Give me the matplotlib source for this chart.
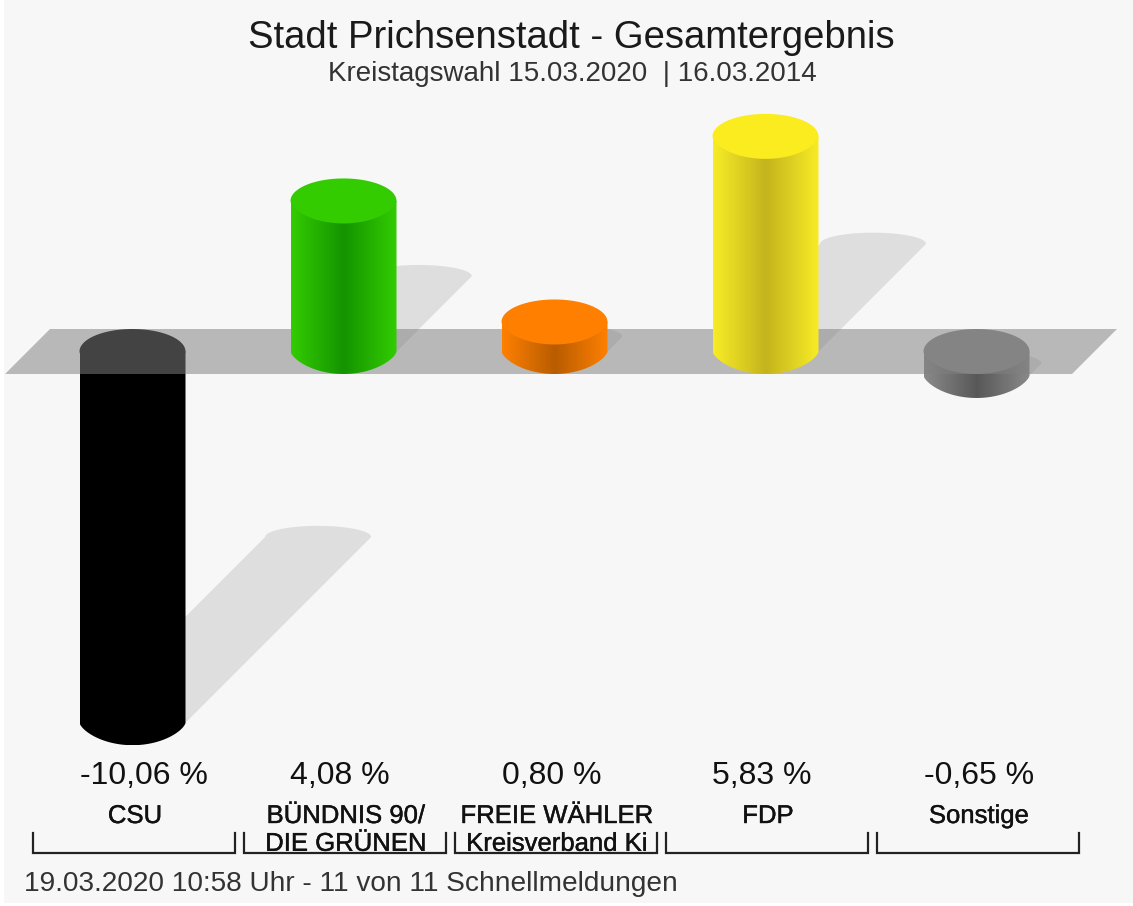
import numpy as np
import matplotlib
matplotlib.use("Agg")
import matplotlib.pyplot as plt
import matplotlib.patheffects as pe
from matplotlib.colors import LinearSegmentedColormap
from matplotlib.patches import Polygon, Rectangle
from matplotlib.transforms import Affine2D

plt.rcParams['font.family'] = ['Liberation Sans', 'DejaVu Sans']

# data
parteien = ["CSU", "BÜNDNIS 90/\nDIE GRÜNEN", "FREIE WÄHLER\nKreisverband Ki", "FDP", "Sonstige"]
differenz = [-10.06, 4.08, 0.80, 5.83, -0.65]
werte_text = ["-10,06 %", "4,08 %", "0,80 %", "5,83 %", "-0,65 %"]
titel = "Stadt Prichsenstadt - Gesamtergebnis"
untertitel = "Kreistagswahl 15.03.2020  | 16.03.2014"
fusszeile = "19.03.2020 10:58 Uhr - 11 von 11 Schnellmeldungen"

# colours: top, edge of the body, middle of the body
farbe_oben = ["#000000", "#33cc00", "#ff8000", "#fbec20", "#8a8a8a"]
farbe_rand = ["#000000", "#33cc00", "#ff8000", "#f8ec26", "#8a8a8a"]
farbe_mitte = ["#000000", "#149400", "#b85c00", "#c4b41e", "#585858"]

W, H = 1133, 906
PX_X = 211.0    # pixels per category
PX_Y = 36.9     # pixels per percent point
X0, Y0 = 132.5, 351.5   # pixel of category 0, value 0
RX = 53 / PX_X
RY = 22.5 / PX_Y

fig = plt.figure(figsize=(W / 100, H / 100), dpi=100, facecolor="white")
ax = fig.add_axes([0, 0, 1, 1])
ax.axis("off")
xlim = (-X0 / PX_X, (W - X0) / PX_X)
ylim = ((Y0 - H) / PX_Y, Y0 / PX_Y)
px = Affine2D().scale(1 / W, -1 / H).translate(0, 1) + fig.transFigure


def bogen(xm, ym, start, stop, ry=RY, spitz=1.0, n=80):
    # elliptical arc, spitz > 1 makes the curve more pointed
    t = np.linspace(start, stop, n)
    s = np.sin(t)
    return np.column_stack([xm + RX * np.cos(t), ym + ry * np.sign(s) * np.abs(s) ** spitz])


ax.add_patch(Rectangle((4, 0), W - 4, H - 3, transform=px, fc="#f7f7f7", ec="none", zorder=0))

for i, v in enumerate(differenz):
    oben, unten = max(v, 0), min(v, 0)
    # shadow, sheared up and to the right from the foot of the bar
    d = abs(v) / 2
    ecke_x = i + RX + d * PX_Y / PX_X
    schatten = np.vstack([
        [[i + RX, unten]],
        bogen(ecke_x - RX, unten + d, 0, np.pi, ry=RY / 2),
        [[i - RX, unten]],
    ])
    ax.add_patch(Polygon(schatten, fc="#dedede", ec="none", zorder=1))

    # body with gradient and top
    z = 2 if v < 0 else 4
    cmap = LinearSegmentedColormap.from_list("k", [farbe_rand[i], farbe_mitte[i], farbe_rand[i]])
    koerper = np.vstack([[[i - RX, oben], [i + RX, oben]], bogen(i, unten, 0, -np.pi, spitz=1.35)])
    im = ax.imshow(np.linspace(0, 1, 256).reshape(1, -1), cmap=cmap, vmin=0, vmax=1, aspect="auto",
                   extent=(i - RX, i + RX, unten - RY, oben), zorder=z, interpolation="bilinear")
    clip = Polygon(koerper, transform=ax.transData, fc="none", ec="none")
    ax.add_patch(clip)
    im.set_clip_path(clip)
    deckel = np.vstack([bogen(i, oben, 0, np.pi), bogen(i, oben, np.pi, 2 * np.pi, spitz=1.2)])
    ax.add_patch(Polygon(deckel, fc=farbe_oben[i], ec="none", zorder=z + 0.1))

    # labels and brackets
    ax.text(X0 + i * PX_X - 53, 776, werte_text[i], transform=px, fontsize=23, color="#111111",
            ha="left", va="center", zorder=5)
    xm = 134 + i * PX_X
    ax.text(xm + 1, 804, parteien[i], transform=px, fontsize=18.5, color="#111111",
            ha="center", va="top", linespacing=1.2, zorder=5,
            path_effects=[pe.withStroke(linewidth=0.3, foreground="#111111")])
    ax.plot([xm - 101, xm - 101, xm + 101, xm + 101], [833, 853, 853, 833], transform=px,
            color="#222222", lw=1.6, solid_joinstyle="miter", zorder=5)

# grey floor, see-through over the shadows and the negative bars
ax.add_patch(Polygon([(5, 374), (50, 329), (1117, 329), (1072, 374)], transform=px,
                     fc="#808080", alpha=0.53, ec="none", zorder=3))

ax.text(571.5, 38, titel, transform=px, fontsize=27.5, color="#1a1a1a", ha="center", va="center", zorder=5)
ax.text(572, 74, untertitel, transform=px, fontsize=20, color="#333333", ha="center", va="center", zorder=5)
ax.text(24, 884, fusszeile, transform=px, fontsize=20.2, color="#333333", ha="left", va="center", zorder=5)

ax.set_xlim(xlim)
ax.set_ylim(ylim)
fig.savefig("out.png", dpi=100, facecolor=fig.get_facecolor())
